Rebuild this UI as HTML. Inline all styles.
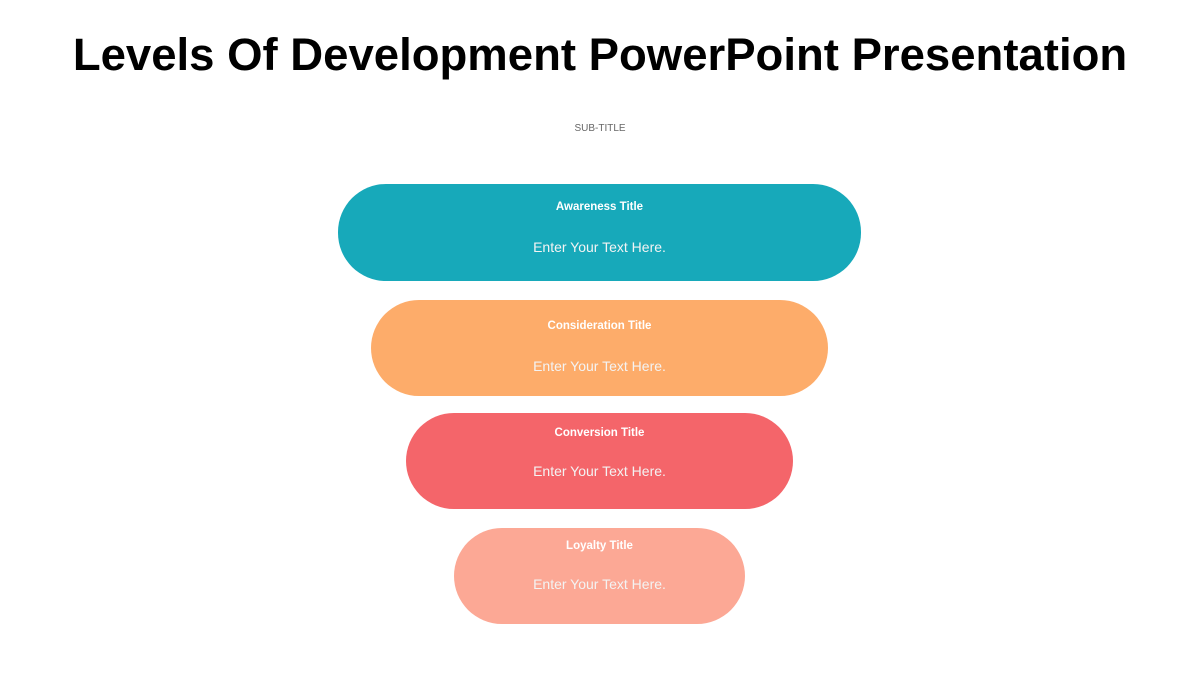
<!DOCTYPE html>
<html><head><meta charset="utf-8"><style>
body{margin:0;width:1200px;height:675px;background:#fff;position:relative;overflow:hidden;font-family:"Liberation Sans",sans-serif}
.t{position:absolute;left:0;width:1200px;text-align:center;top:28px;font-size:45.5px;font-weight:bold;color:#000;line-height:54px}
.s{position:absolute;left:0;width:1200px;text-align:center;top:123px;font-size:10px;color:#666}
.p{position:absolute;border-radius:48px;color:#fff;text-align:center}
.p .a{position:absolute;left:0;right:0;font-size:11.5px;font-weight:bold}
.p .b{position:absolute;left:0;right:0;font-size:14px;color:#f3f3f3}
</style></head><body>
<div class="t">Levels Of Development PowerPoint Presentation</div>
<div class="s">SUB-TITLE</div>
<div class="p" style="left:338px;top:184px;width:523px;height:97px;background:#17A9BA"><div class="a" style="top:17px">Awareness Title</div><div class="b" style="top:55px">Enter Your Text Here.</div></div>
<div class="p" style="left:371px;top:300px;width:457px;height:96px;background:#FDAC6A"><div class="a" style="top:20px">Consideration Title</div><div class="b" style="top:58px">Enter Your Text Here.</div></div>
<div class="p" style="left:406px;top:413px;width:387px;height:96px;background:#F4656A"><div class="a" style="top:14px">Conversion Title</div><div class="b" style="top:50px">Enter Your Text Here.</div></div>
<div class="p" style="left:454px;top:528px;width:291px;height:96px;background:#FCA895"><div class="a" style="top:12px">Loyalty Title</div><div class="b" style="top:48px">Enter Your Text Here.</div></div>
</body></html>
